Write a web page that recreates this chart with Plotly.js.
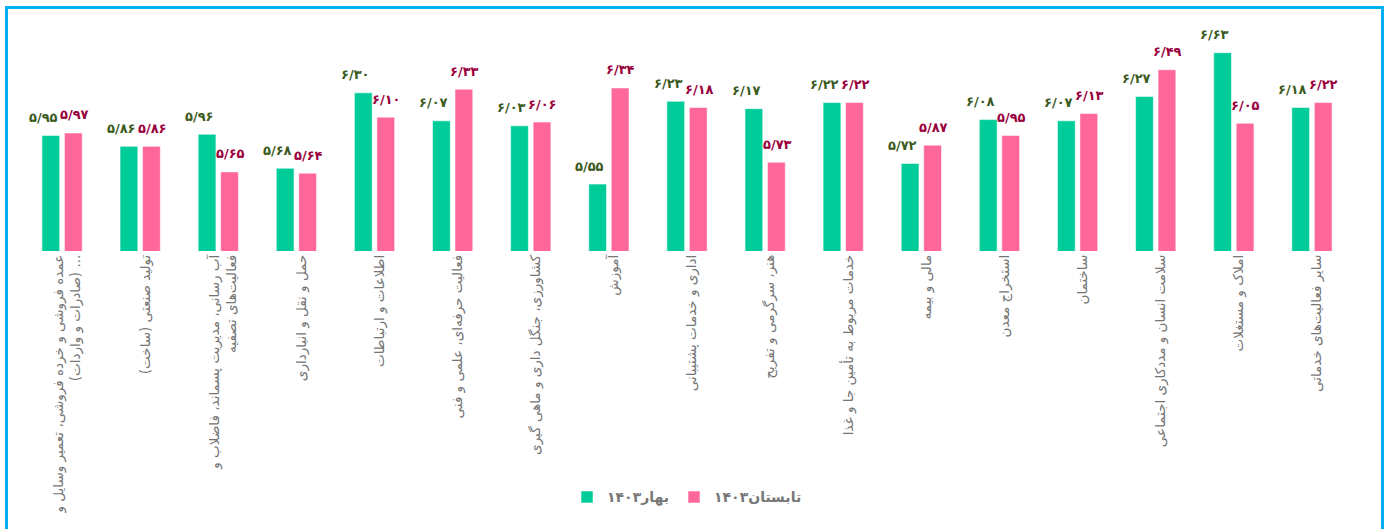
<!DOCTYPE html>
<html>
<head>
<meta charset="utf-8">
<script src="https://cdn.plot.ly/plotly-3.0.1.min.js"></script>
<style>
  html, body { margin: 0; padding: 0; background: #fff; }
  #wrap { position: relative; width: 1388px; height: 529px; overflow: hidden; }
  #chart { position: absolute; left: 0; top: 0; width: 1388px; height: 529px; }
  #frame { position: absolute; left: 5px; top: 6px; width: 1373px; height: 600px;
           border: 3px solid #00B0F0; pointer-events: none; }
</style>
</head>
<body>
<div id="wrap">
  <div id="chart"></div>
  <div id="frame"></div>
</div>
<script>
const categories = [
  "عمده فروشی و خرده فروشی، تعمیر وسایل و<br>... (صادرات و واردات)",
  "تولید صنعتی (ساخت)",
  "آب رسانی، مدیریت پسماند، فاضلاب و<br>فعالیت‌های تصفیه",
  "حمل و نقل و انبارداری",
  "اطلاعات و ارتباطات",
  "فعالیت حرفه‌ای، علمی و فنی",
  "کشاورزی، جنگل داری و ماهی گیری",
  "آموزش",
  "اداری و خدمات پشتیبانی",
  "هنر، سرگرمی و تفریح",
  "خدمات مربوط به تأمین جا و غذا",
  "مالی و بیمه",
  "استخراج معدن",
  "ساختمان",
  "سلامت انسان و مددکاری اجتماعی",
  "املاک و مستغلات",
  "سایر فعالیت‌های خدماتی"
];
const seriesNames = ["بهار۱۴۰۳", "تابستان۱۴۰۳"];
const spring = [5.95, 5.86, 5.96, 5.68, 6.30, 6.07, 6.03, 5.55, 6.23, 6.17, 6.22, 5.72, 6.08, 6.07, 6.27, 6.63, 6.18];
const summer = [5.97, 5.86, 5.65, 5.64, 6.10, 6.33, 6.06, 6.34, 6.18, 5.73, 6.22, 5.87, 5.95, 6.13, 6.49, 6.05, 6.22];

const RLM = "\u200F";
const labels = categories.map(c => c.split("<br>").map(l => RLM + l + RLM).join("<br>"));
const faDigits = "۰۱۲۳۴۵۶۷۸۹";
function fa(v) {
  return v.toFixed(2).replace(".", "/").replace(/[0-9]/g, d => faDigits[+d]);
}

const GREEN = "#00CC99", PINK = "#FF6699";
const GREEN_TXT = "#3B5A1E", PINK_TXT = "#99003D";

const traces = [
  { type: "bar", name: seriesNames[0], x: labels, y: spring,
    marker: { color: GREEN, line: { color: "rgba(255,255,255,0.55)", width: 1 } } },
  { type: "bar", name: seriesNames[1], x: labels, y: summer,
    marker: { color: PINK, line: { color: "rgba(255,255,255,0.55)", width: 1 } } }
];

const annotations = [];
spring.forEach((v, i) => annotations.push({
  x: i, y: v, xref: "x", yref: "y", text: fa(v), showarrow: false,
  xshift: -19, yshift: 18, yanchor: "middle",
  font: { family: "DejaVu Sans", size: 13, color: GREEN_TXT, weight: "bold" }
}));
summer.forEach((v, i) => annotations.push({
  x: i, y: v, xref: "x", yref: "y", text: fa(v), showarrow: false,
  xshift: 12, yshift: 18, yanchor: "middle",
  font: { family: "DejaVu Sans", size: 13, color: PINK_TXT, weight: "bold" }
}));

const layout = {
  width: 1388, height: 529,
  margin: { l: 23, r: 37, t: 32, b: 278 },
  paper_bgcolor: "rgba(0,0,0,0)", plot_bgcolor: "rgba(0,0,0,0)",
  barmode: "group", bargap: 0.424, bargroupgap: 0.21,
  font: { family: "DejaVu Sans", color: "#767676" },
  xaxis: {
    type: "category", tickangle: -90, automargin: false, ticklabelshift: 5,
    showline: false, showgrid: false, zeroline: false, ticks: "",
    tickfont: { family: "DejaVu Sans", size: 13.5, color: "#767676" }
  },
  yaxis: {
    range: [5, 6.8], visible: false, showgrid: false, zeroline: false, fixedrange: true
  },
  showlegend: true,
  legend: {
    orientation: "h", x: 0.5, xanchor: "center", y: -1.125, yanchor: "middle",
    font: { family: "DejaVu Sans", size: 14, color: "#767676", weight: "bold" },
    itemwidth: 30, traceorder: "normal"
  },
  annotations: annotations
};

Plotly.newPlot("chart", traces, layout, { displayModeBar: false, staticPlot: true });
</script>
</body>
</html>
